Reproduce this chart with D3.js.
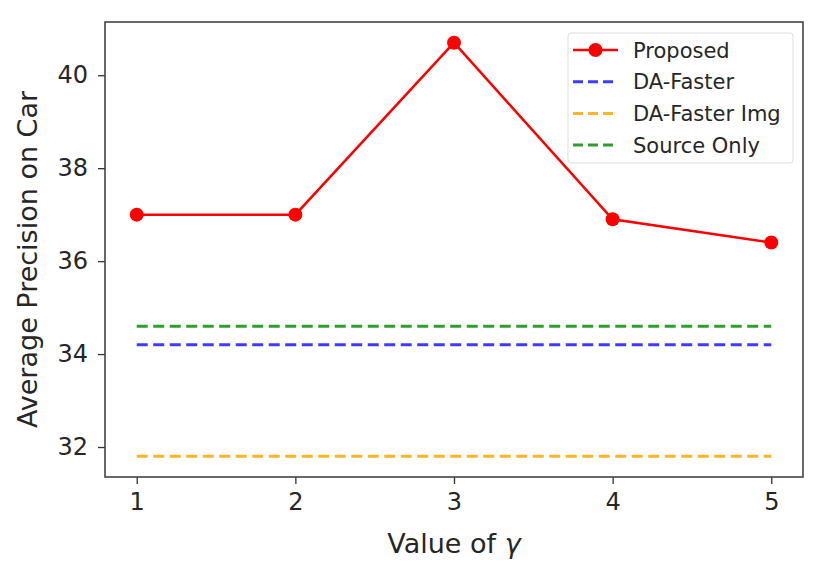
<!DOCTYPE html>
<html>
<head>
<meta charset="utf-8">
<script src="https://cdn.jsdelivr.net/npm/d3@7"></script>
<style>
  body { margin: 0; background: #fff; }
  text { font-family: "DejaVu Sans", sans-serif; fill: #262626; }
</style>
</head>
<body>
<div id="chart"></div>
<script>
// data
var gammas = [1, 2, 3, 4, 5];
var proposed = [37.0, 37.0, 40.7, 36.9, 36.4];
var baselineNames = ["DA-Faster", "DA-Faster Img", "Source Only"];
var baselineValues = [34.2, 31.8, 34.6];
var baselineColors = ["#3c3cff", "#ffb327", "#2ca02c"];
var yTicks = [32, 34, 36, 38, 40];

var w = 823, h = 580;
var margin = { left: 105, right: 20, top: 22, bottom: 103 };
var iw = w - margin.left - margin.right; // 698
var ih = h - margin.top - margin.bottom; // 455

var svg = d3.select("#chart").append("svg")
    .attr("width", w)
    .attr("height", h);

var g = svg.append("g")
    .attr("transform", "translate(" + margin.left + "," + margin.top + ")");

// matplotlib-style 5% margins
var xScale = d3.scaleLinear().domain([0.8, 5.2]).range([0, iw]);
var yMin = 31.8, yMax = 40.7, pad = (yMax - yMin) * 0.05;
var yScale = d3.scaleLinear().domain([yMin - pad, yMax + pad]).range([ih, 0]);

// baselines (dashed)
baselineValues.forEach(function(v, i) {
    g.append("line")
        .attr("x1", xScale(gammas[0]))
        .attr("x2", xScale(gammas[gammas.length - 1]))
        .attr("y1", yScale(v))
        .attr("y2", yScale(v))
        .attr("stroke", baselineColors[i])
        .attr("stroke-width", 3)
        .attr("stroke-dasharray", "11 5.5");
});

// proposed line + markers
var line = d3.line()
    .x(function(d, i) { return xScale(gammas[i]); })
    .y(function(d) { return yScale(d); });

g.append("path")
    .datum(proposed)
    .attr("d", line)
    .attr("fill", "none")
    .attr("stroke", "red")
    .attr("stroke-width", 2.5);

g.selectAll(".dot")
    .data(proposed)
    .enter().append("circle")
    .attr("class", "dot")
    .attr("cx", function(d, i) { return xScale(gammas[i]); })
    .attr("cy", function(d) { return yScale(d); })
    .attr("r", 7)
    .attr("fill", "red");

// axes
var xAxis = d3.axisBottom(xScale).tickValues(gammas).tickFormat(d3.format("d")).tickSize(7).tickPadding(9);
var yAxis = d3.axisLeft(yScale).tickValues(yTicks).tickSize(7).tickPadding(10);

var gx = g.append("g")
    .attr("transform", "translate(0," + ih + ")")
    .call(xAxis);
var gy = g.append("g").call(yAxis);

[gx, gy].forEach(function(a) {
    a.select(".domain").remove();
    a.selectAll(".tick line").attr("stroke", "#333").attr("stroke-width", 1.3);
    a.selectAll(".tick text").style("font-size", "24px").attr("fill", "#262626");
});

// frame
g.append("rect")
    .attr("width", iw)
    .attr("height", ih)
    .attr("fill", "none")
    .attr("stroke", "#444")
    .attr("stroke-width", 1.6);

// axis labels
var xl = svg.append("text")
    .attr("x", margin.left + xScale(3))
    .attr("y", 553)
    .attr("text-anchor", "middle")
    .style("font-size", "27px");
xl.append("tspan").text("Value of ");
xl.append("tspan").style("font-style", "italic").text("γ");

svg.append("text")
    .attr("transform", "translate(37," + (margin.top + ih / 2 + 10) + ") rotate(-90)")
    .attr("text-anchor", "middle")
    .style("font-size", "27px")
    .text("Average Precision on Car");

// legend
var legend = svg.append("g").attr("transform", "translate(568,33)");
legend.append("rect")
    .attr("width", 225)
    .attr("height", 130)
    .attr("rx", 3)
    .attr("fill", "#fff")
    .attr("fill-opacity", 0.8)
    .attr("stroke", "#ddd");

var names = ["Proposed"].concat(baselineNames);
var colors = ["red"].concat(baselineColors);
names.forEach(function(n, i) {
    var ly = 17 + i * 31.7;
    var row = legend.append("g").attr("transform", "translate(0," + ly + ")");
    row.append("line")
        .attr("x1", 5).attr("x2", 50)
        .attr("stroke", colors[i])
        .attr("stroke-width", i === 0 ? 2.5 : 3)
        .attr("stroke-dasharray", i === 0 ? null : "10 5");
    if (i === 0) {
        row.append("circle").attr("cx", 27.5).attr("r", 7).attr("fill", "red");
    }
    row.append("text")
        .attr("x", 65)
        .attr("y", 7.5)
        .style("font-size", "21px")
        .text(n);
});
</script>
</body>
</html>
